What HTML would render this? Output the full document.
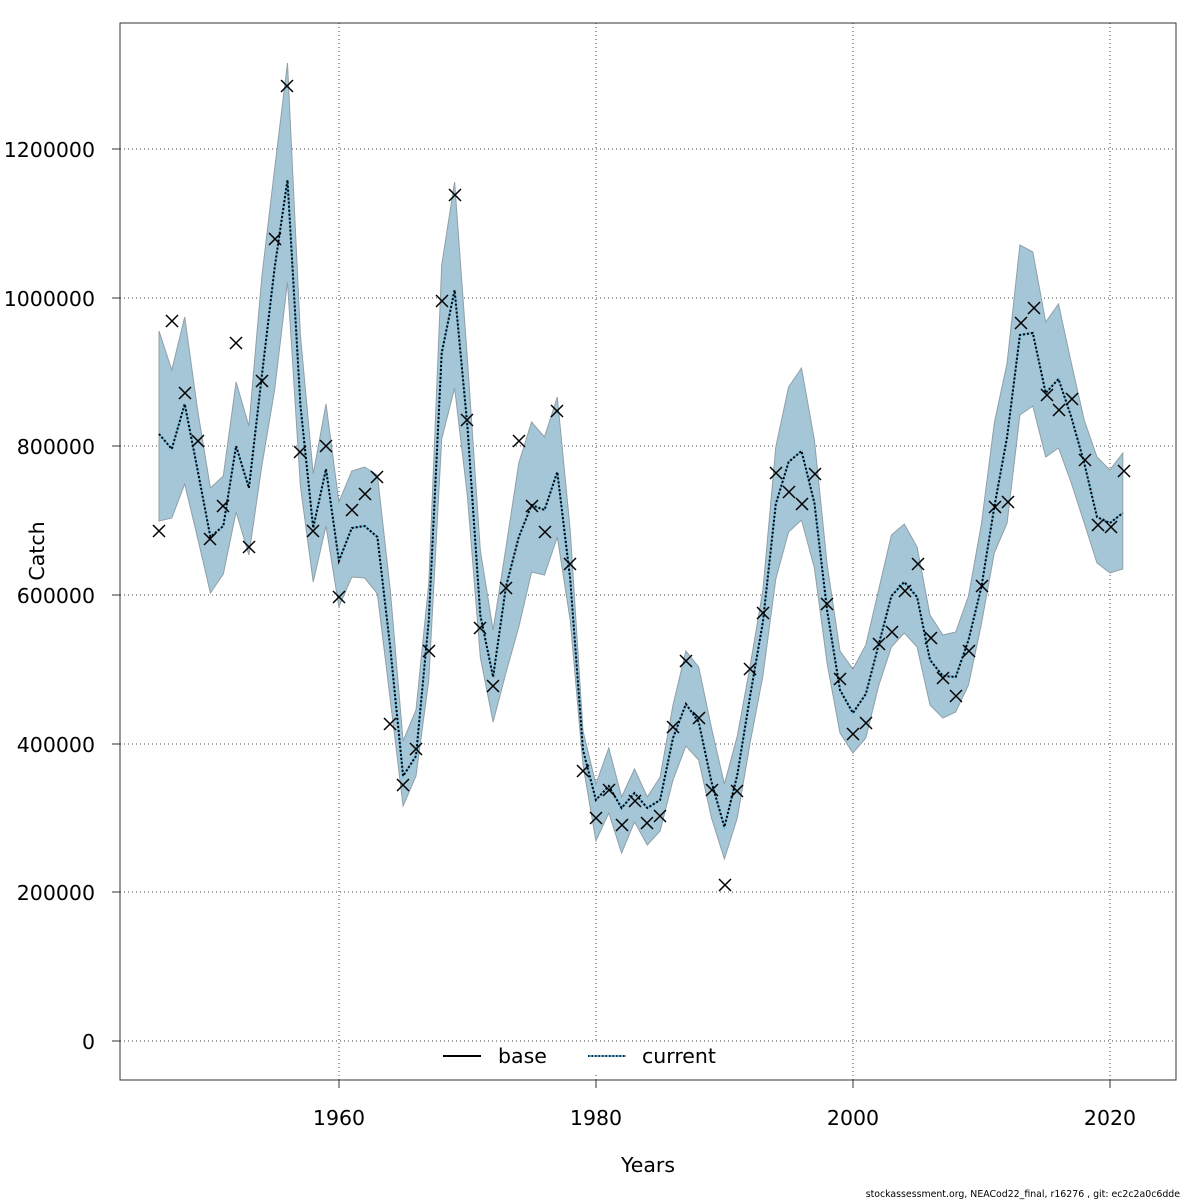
<!DOCTYPE html>
<html><head><meta charset="utf-8"><style>
html,body{margin:0;padding:0;background:#fff;}
svg{display:block;font-family:"DejaVu Sans","Liberation Sans",sans-serif;}
</style></head><body>
<svg id="s" width="1200" height="1200" xmlns="http://www.w3.org/2000/svg">
<rect width="1200" height="1200" fill="#fff"/>
<g id="grid" stroke="#444" stroke-width="1" stroke-dasharray="1,3">
<line x1="339" y1="23" x2="339" y2="1080"/><line x1="596" y1="23" x2="596" y2="1080"/>
<line x1="853" y1="23" x2="853" y2="1080"/><line x1="1110" y1="23" x2="1110" y2="1080"/>
<line x1="120" y1="149" x2="1176" y2="149"/><line x1="120" y1="298" x2="1176" y2="298"/>
<line x1="120" y1="446" x2="1176" y2="446"/><line x1="120" y1="595" x2="1176" y2="595"/>
<line x1="120" y1="744" x2="1176" y2="744"/><line x1="120" y1="892" x2="1176" y2="892"/>
<line x1="120" y1="1041" x2="1176" y2="1041"/>
</g>
<g id="data"></g>
<rect x="120" y="23" width="1056" height="1057" fill="none" stroke="#333" stroke-width="1"/>
<g font-size="20.5" fill="#000" text-anchor="end">
<text x="95" y="157">1200000</text><text x="95" y="306">1000000</text>
<text x="95" y="454">800000</text><text x="95" y="603">600000</text>
<text x="95" y="752">400000</text><text x="95" y="900">200000</text>
<text x="95" y="1049">0</text>
</g>
<g stroke="#333"><line x1="339" y1="1080" x2="339" y2="1088"/><line x1="596" y1="1080" x2="596" y2="1088"/><line x1="853" y1="1080" x2="853" y2="1088"/><line x1="1110" y1="1080" x2="1110" y2="1088"/>
<line x1="112" y1="149" x2="120" y2="149"/><line x1="112" y1="298" x2="120" y2="298"/><line x1="112" y1="446" x2="120" y2="446"/><line x1="112" y1="595" x2="120" y2="595"/><line x1="112" y1="744" x2="120" y2="744"/><line x1="112" y1="892" x2="120" y2="892"/><line x1="112" y1="1041" x2="120" y2="1041"/></g>
<g font-size="20.5" text-anchor="middle">
<text x="339" y="1125">1960</text><text x="596" y="1125">1980</text><text x="853" y="1125">2000</text><text x="1110" y="1125">2020</text>
<text x="648" y="1172">Years</text>
<text transform="translate(44,551) rotate(-90)">Catch</text>
</g>
<rect x="430" y="1043" width="300" height="30" fill="#fff"/>
<line x1="443" y1="1056" x2="481" y2="1056" stroke="#000" stroke-width="2"/>
<line x1="588" y1="1056" x2="626" y2="1056" stroke="#6ab8e0" stroke-width="2"/>
<line x1="588" y1="1056" x2="626" y2="1056" stroke="#000" stroke-width="1.5" stroke-dasharray="1.5,2"/>
<g font-size="20.5"><text x="498" y="1063">base</text><text x="642" y="1063">current</text></g>
<text x="1180" y="1197" font-size="9.4" text-anchor="end">stockassessment.org, NEACod22_final, r16276 , git: ec2c2a0c6dde</text>
</svg>
<script>
var P=[[159,531],[172,321],[185,393],[198,441],[210,539],[223,506],[236,343],[249,547],[262,381],[275,239],[287,86],[300,452],[313,531],[326,446],[339,597],[352,510],[365,494],[377,477],[390,724],[403,785],[416,749],[429,651],[442,301],[455,195],[467,420],[480,628],[493,686],[506,588],[519,441],[532,506],[545,532],[557,411],[570,564],[583,771],[596,818],[609,790],[622,825],[635,801],[647,823],[660,816],[673,727],[686,661],[699,718],[712,790],[725,885],[737,791],[750,669],[763,613],[776,473],[789,492],[802,504],[815,474],[827,604],[840,679],[853,734],[866,723],[879,644],[892,632],[905,591],[918,564],[931,638],[943,678],[956,696],[969,651],[982,586],[995,507],[1008,502],[1021,323],[1034,308],[1047,395],[1059,410],[1072,399],[1085,460],[1098,525],[1111,527],[1124,471]];
var E=[434,449,404,470,537,526,446,488,376,268,180,405,528,469,561,528,526,537,648,776,756,620,353,290,426,615,677,587,537,505,510,472,579,750,800,786,808,793,808,800,738,704,722,782,827,775,696,622,504,462,451,503,611,690,713,694,645,596,582,597,660,676,677,640,587,507,437,335,333,393,379,417,463,517,523,513];
var U=[331,370,317,410,488,476,382,426,277,169,63,335,474,404,502,471,467,475,590,741,710,583,265,182,359,550,630,548,463,422,437,397,530,731,784,748,797,769,797,777,705,651,667,728,784,736,666,590,447,387,368,440,565,651,669,645,590,535,524,547,615,635,632,596,524,423,363,245,252,322,304,363,420,457,470,453];
var L=[521,518,484,538,593,574,512,555,466,390,282,486,582,526,607,577,578,594,700,806,776,680,439,388,496,657,722,673,627,572,575,537,620,765,841,813,853,822,845,831,780,746,760,818,859,818,743,676,579,532,520,568,664,733,753,738,686,647,633,647,705,718,712,685,624,553,523,415,406,457,448,483,523,563,573,569];
var x=function(i){return (159+i*12.85).toFixed(1);};
var up=[],lo=[],est=[];
for(var i=0;i<76;i++){up.push(x(i)+","+U[i]);est.push(x(i)+","+E[i]);}
for(var i=75;i>=0;i--){lo.push(x(i)+","+L[i]);}
var h='<polygon points="'+up.concat(lo).join(" ")+'" fill="#a5c6d6" stroke="#8fa0a8" stroke-width="1"/>';
h+='<polyline points="'+est.join(" ")+'" fill="none" stroke="#6ab8e0" stroke-width="2"/>';
h+='<polyline points="'+est.join(" ")+'" fill="none" stroke="#000" stroke-width="2" stroke-dasharray="2,2"/>';
for(var i=0;i<P.length;i++){var a=P[i][0],b=P[i][1];h+='<path d="M'+(a-6)+' '+(b-6)+'L'+(a+6)+' '+(b+6)+'M'+(a-6)+' '+(b+6)+'L'+(a+6)+' '+(b-6)+'" stroke="#000" stroke-width="1.5"/>';}
document.getElementById("data").innerHTML=h;
</script>
</body></html>
